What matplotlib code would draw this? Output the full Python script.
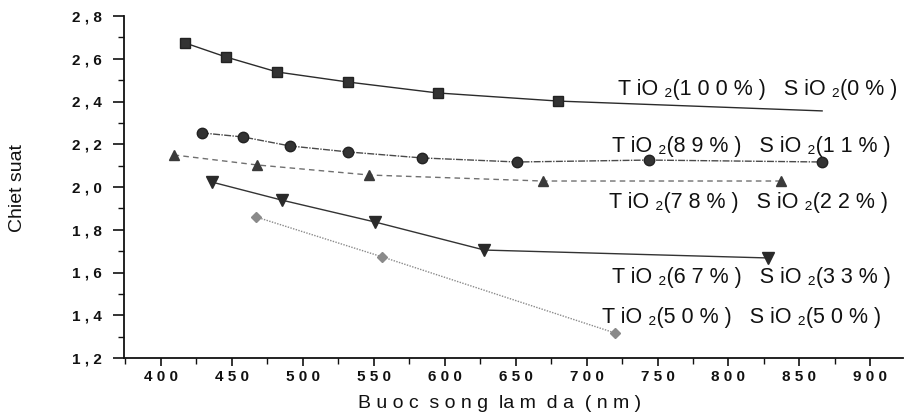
import matplotlib
matplotlib.use("Agg")
import matplotlib.pyplot as plt
from matplotlib.ticker import MultipleLocator, FuncFormatter

plt.rcParams['font.family'] = ['Liberation Sans', 'DejaVu Sans']

# ---- data ----
x_100 = [417, 446, 482, 532, 595, 680, 866]
y_100 = [2.674, 2.608, 2.538, 2.491, 2.440, 2.402, 2.356]

x_89 = [429, 458, 491, 532, 584, 651, 744, 866]
y_89 = [2.253, 2.234, 2.192, 2.164, 2.136, 2.117, 2.126, 2.117]

x_78 = [409, 468, 547, 669, 837]
y_78 = [2.150, 2.103, 2.056, 2.028, 2.028]

x_67 = [436, 485, 551, 628, 828]
y_67 = [2.023, 1.939, 1.836, 1.705, 1.668]

x_50 = [467, 556, 720]
y_50 = [1.860, 1.673, 1.317]

labels = [
    "T iO \u2082(1 0 0 % )   S iO \u2082(0 % )",
    "T iO \u2082(8 9 % )   S iO \u2082(1 1 % )",
    "T iO \u2082(7 8 % )   S iO \u2082(2 2 % )",
    "T iO \u2082(6 7 % )   S iO \u2082(3 3 % )",
    "T iO \u2082(5 0 % )   S iO \u2082(5 0 % )",
]
label_x = [722, 718, 716, 718, 711]
label_y = [2.430, 2.164, 1.902, 1.551, 1.364]

xlabel = "B u o c  s o n g  la m  d a  ( n m )"
ylabel = "Chiet suat"

# ---- figure ----
W, H = 907, 416
fig = plt.figure(figsize=(W / 100, H / 100), dpi=100)
ax = fig.add_axes([124 / W, (H - 358) / H, (903 - 124) / W, (358 - 16) / H])

ax.plot(x_100, y_100, color='#2b2b2b', lw=1.0, ls='-', marker='s', ms=7.5,
        mfc='#333333', mec='#222222', markevery=list(range(len(x_100) - 1)))
ax.plot(x_89, y_89, color='#4a4a4a', lw=1.0, ls=(0, (5, 1, 1, 1)), marker='o', ms=7.5,
        mfc='#333333', mec='#222222')
ax.plot(x_78, y_78, color='#707070', lw=1.0, ls=(0, (4, 3)), marker='^', ms=7.5,
        mfc='#3a3a3a', mec='#3a3a3a')
ax.plot(x_67, y_67, color='#333333', lw=1.0, ls='-', marker='v', ms=8.5,
        mfc='#2a2a2a', mec='#2a2a2a')
ax.plot(x_50, y_50, color='#8a8a8a', lw=1.0, ls=(0, (1, 1)), marker='D', ms=5.5,
        mfc='#8a8a8a', mec='#8a8a8a')

for t, lx, ly in zip(labels, label_x, label_y):
    ax.text(lx, ly, t, fontsize=15.5, color='#111111', va='baseline', ha='left')

ax.set_xlim(374, 923)
ax.set_ylim(1.2, 2.8)
ax.set_xticks([400, 450, 500, 550, 600, 650, 700, 750, 800, 850, 900])
ax.xaxis.set_minor_locator(MultipleLocator(25))
ax.yaxis.set_major_locator(MultipleLocator(0.2))
ax.yaxis.set_minor_locator(MultipleLocator(0.1))
ax.xaxis.set_major_formatter(FuncFormatter(lambda v, p: " ".join(str(int(round(v))))))
ax.yaxis.set_major_formatter(FuncFormatter(lambda v, p: ("%.1f" % v).replace('.', ' , ')))

for s in ['top', 'right']:
    ax.spines[s].set_visible(False)
for s in ['left', 'bottom']:
    ax.spines[s].set_linewidth(1.3)
    ax.spines[s].set_color('#111111')
ax.tick_params(axis='y', which='major', direction='out', length=8, width=1.2, labelsize=11,
               colors='#111111', pad=8)
ax.tick_params(axis='x', which='major', direction='out', length=5.5, width=1.2, labelsize=11,
               colors='#111111', pad=3)
ax.tick_params(which='minor', direction='out', length=4, width=1.0, colors='#111111')
for lab in ax.get_xticklabels() + ax.get_yticklabels():
    lab.set_fontweight('bold')

fig.text(500 / W, 1 - 403 / H, xlabel, fontsize=14, ha='center', va='center', color='#111111')
fig.text(18 / W, 1 - 188 / H, ylabel, fontsize=14, rotation=90, ha='center', va='center',
         color='#111111')

fig.savefig('out.png', dpi=100)
